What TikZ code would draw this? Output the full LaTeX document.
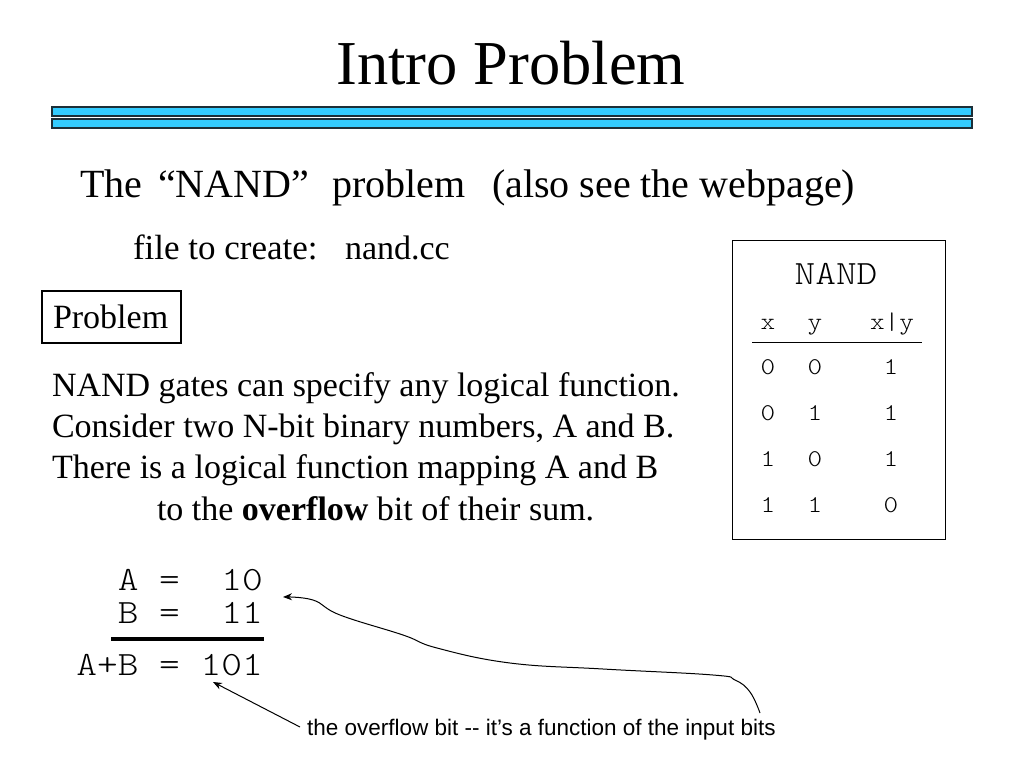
\documentclass[tikz,border=0pt]{standalone}
\usepackage{fontspec}
\setmainfont{Liberation Serif}
\setsansfont{Liberation Sans}
\newfontfamily\courlike{lmmonolt10-regular.otf}[FakeStretch=1.16]
\usetikzlibrary{arrows.meta}
\definecolor{barblue}{HTML}{33CCFF}
\definecolor{bardark}{HTML}{1C2F38}
\tikzset{
  txt/.style={anchor=base west,inner sep=0pt,outer sep=0pt},
  body/.style={txt,font=\fontsize{34}{40}\selectfont},
  cell/.style={anchor=base,inner sep=0pt,font=\courlike\fontsize{24}{27}\selectfont},
  mono/.style={anchor=base east,inner sep=0pt,font=\courlike\fontsize{34}{36}\selectfont},
  bar/.style={fill=barblue,draw=bardark,line width=1.3pt},
  pointer/.style={draw=black,line width=1pt,-{Stealth[length=9pt,width=7pt]}}
}
\begin{document}
\begin{tikzpicture}[x=1pt,y=-1pt]
\useasboundingbox (0,0) rectangle (1024,768);
\fill[white] (0,0) rectangle (1024,768);
% title
\node[anchor=base,inner sep=0pt,font=\fontsize{62.5}{70}\selectfont] (title) at (511,84) {Intro Problem};
\draw[bar] (52,107) rectangle (972,116);
\draw[bar] (52,119) rectangle (972,128);
% subtitle
\node[txt,font=\fontsize{40}{46}\selectfont] (s1) at (80,197) {The};
\node[txt,font=\fontsize{40}{46}\selectfont] (s2) at (158,197) {“NAND”};
\node[txt,font=\fontsize{40}{46}\selectfont] (s3) at (332,197) {problem};
\node[txt,font=\fontsize{40}{46}\selectfont] (s4) at (492,197) {(also see the webpage)};
\node[txt,font=\fontsize{35}{40}\selectfont] (f1) at (133,259) {file to create:};
\node[body] (f2) at (345,259) {nand.cc};
% problem box
\draw[line width=1.5pt] (42,291) rectangle (181,343);
\node[body] (prob) at (53,328) {Problem};
% paragraph
\node[body] (p1) at (52,396) {NAND gates can specify any logical function.};
\node[body] (p2) at (52,437) {Consider two N-bit binary numbers, A and B.};
\node[body] (p3) at (52,478) {There is a logical function mapping A and B};
\node[body] (p4) at (157,520) {to the \textbf{overflow} bit of their sum.};
% table
\draw[line width=1pt] (732,240) rectangle (945,539);
\node[anchor=base,inner sep=0pt,font=\courlike\fontsize{34}{38}\selectfont] (tn) at (836,284) {NAND};
\node[cell] (hx) at (768,329) {x};
\node[cell] (hy) at (815,329) {y};
\node[cell] (hxy) at (892,329) {x|y};
\draw[line width=1pt] (752,342) -- (922,342);
\node[cell] (a1) at (768,374) {0};
\node[cell] (b1) at (815,374) {0};
\node[cell] (c1) at (891,374) {1};
\node[cell] (a2) at (768,420) {0};
\node[cell] (b2) at (815,420) {1};
\node[cell] (c2) at (891,420) {1};
\node[cell] (a3) at (768,466) {1};
\node[cell] (b3) at (815,466) {0};
\node[cell] (c3) at (891,466) {1};
\node[cell] (a4) at (768,512) {1};
\node[cell] (b4) at (815,512) {1};
\node[cell] (c4) at (891,512) {0};
% sum
\node[mono] (ra) at (263,590) {A =\ \ 10};
\node[mono] (rb) at (263,623) {B =\ \ 11};
\draw[line width=3.5pt] (111,639) -- (264,639);
\node[mono] (rs) at (263,675) {A+B = 101};
% caption and pointers
\node[txt,font=\sffamily\fontsize{22.5}{26}\selectfont] (cap) at (307,735) {the overflow bit -{}- it’s a function of the input bits};
\coordinate (tipA) at (283,597);
\coordinate (tipS) at (213,682);
\coordinate (tailA) at (760,713);
\coordinate (tailS) at (300,727);
\draw[pointer] (tailS) -- (tipS);
\draw[pointer] plot[smooth,tension=0.7] coordinates {(tailA) (750,692) (735,680) (713,675) (603,669) (510,663) (437,648) (403,635) (340,615) (313,600) (tipA)};
\end{tikzpicture}
\end{document}
